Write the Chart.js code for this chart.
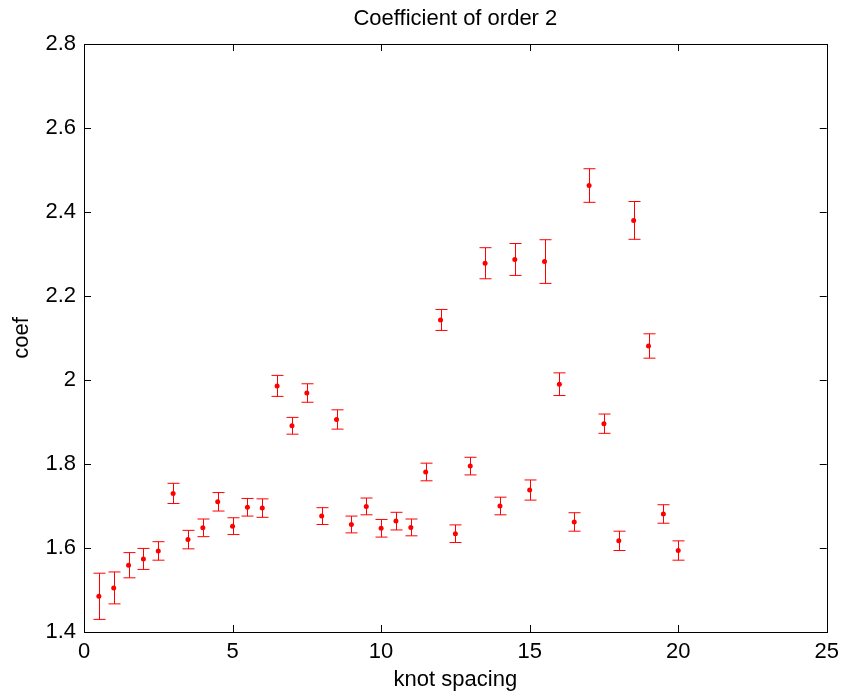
<!DOCTYPE html>
<html>
<head>
<meta charset="utf-8">
<script src="https://cdn.jsdelivr.net/npm/chart.js@4.4.1/dist/chart.umd.min.js"></script>
<style>
  html, body { margin: 0; padding: 0; background: #fff; }
  #wrap { width: 846px; height: 698px; }
</style>
</head>
<body>
<div id="wrap"><canvas id="myChart" width="846" height="698"></canvas></div>
<script>
// knot spacing values and fitted coefficient (order 2) with error half-widths
const spacing = [0.5, 1, 1.5, 2, 2.5, 3, 3.5, 4, 4.5, 5, 5.5, 6, 6.5, 7, 7.5, 8, 8.5, 9, 9.5, 10,
                 10.5, 11, 11.5, 12, 12.5, 13, 13.5, 14, 14.5, 15, 15.5, 16, 16.5, 17, 17.5, 18, 18.5, 19, 19.5, 20];
const coef = [1.485, 1.505, 1.559, 1.574, 1.593, 1.730, 1.620, 1.648, 1.710, 1.652, 1.697, 1.695, 1.986, 1.891,
              1.969, 1.676, 1.906, 1.656, 1.699, 1.647, 1.664, 1.649, 1.781, 2.143, 1.634, 1.795, 2.278, 1.700,
              2.287, 1.738, 2.282, 1.990, 1.662, 2.463, 1.896, 1.617, 2.380, 2.081, 1.681, 1.594];
const coefErr = [0.055, 0.038, 0.030, 0.025, 0.022, 0.024, 0.022, 0.021, 0.022, 0.020, 0.021, 0.022, 0.025, 0.020,
                 0.022, 0.020, 0.023, 0.020, 0.020, 0.021, 0.021, 0.020, 0.021, 0.025, 0.021, 0.021, 0.037, 0.021,
                 0.038, 0.024, 0.052, 0.027, 0.022, 0.040, 0.023, 0.023, 0.045, 0.029, 0.022, 0.023];

const xTicks = [0, 5, 10, 15, 20, 25];
const yTicks = [1.4, 1.6, 1.8, 2.0, 2.2, 2.4, 2.6, 2.8];
const titleText = 'Coefficient of order 2';

const FONT = "'Liberation Sans', Arial, Helvetica, sans-serif";

// error bars drawn through the chart's own scales
const errorBars = {
    id: 'errorBars',
    beforeDatasetsDraw(chart) {
        const ctx = chart.ctx;
        const xs = chart.scales.x, ys = chart.scales.y;
        ctx.save();
        ctx.strokeStyle = '#ff0000';
        ctx.lineWidth = 1;
        for (let i = 0; i < spacing.length; i++) {
            const px = Math.round(xs.getPixelForValue(spacing[i])) + 0.5;
            const top = ys.getPixelForValue(coef[i] + coefErr[i]);
            const bot = ys.getPixelForValue(coef[i] - coefErr[i]);
            ctx.beginPath();
            ctx.moveTo(px, top); ctx.lineTo(px, bot);
            ctx.moveTo(px - 6, top); ctx.lineTo(px + 6, top);
            ctx.moveTo(px - 6, bot); ctx.lineTo(px + 6, bot);
            ctx.stroke();
        }
        ctx.restore();
    }
};

// box around the plot with inward ticks on all four sides, title centred over the plot
const frame = {
    id: 'frame',
    afterDraw(chart) {
        const ctx = chart.ctx;
        const a = chart.chartArea;
        const xs = chart.scales.x, ys = chart.scales.y;
        const L = 7;
        ctx.save();
        ctx.strokeStyle = '#000';
        ctx.lineWidth = 1;
        ctx.beginPath();
        xTicks.forEach(v => {
            const px = Math.round(xs.getPixelForValue(v)) + 0.5;
            ctx.moveTo(px, a.bottom); ctx.lineTo(px, a.bottom - L);
            ctx.moveTo(px, a.top); ctx.lineTo(px, a.top + L);
        });
        yTicks.forEach(v => {
            const py = Math.round(ys.getPixelForValue(v)) + 0.5;
            ctx.moveTo(a.left, py); ctx.lineTo(a.left + L, py);
            ctx.moveTo(a.right, py); ctx.lineTo(a.right - L, py);
        });
        ctx.stroke();
        ctx.strokeRect(Math.round(a.left) + 0.5, Math.round(a.top) + 0.5,
                       Math.round(a.right - a.left), Math.round(a.bottom - a.top));

        ctx.fillStyle = '#000';
        ctx.font = '22px ' + FONT;
        ctx.textAlign = 'center';
        ctx.textBaseline = 'middle';
        ctx.fillText(titleText, (a.left + a.right) / 2, 19);
        ctx.restore();
    }
};

const ctx = document.getElementById('myChart').getContext('2d');
const myChart = new Chart(ctx, {
    type: 'scatter',
    data: {
        datasets: [{
            label: 'coef',
            data: spacing.map((x, i) => ({ x: x, y: coef[i] })),
            backgroundColor: '#ff0000',
            borderWidth: 0,
            pointRadius: 2.5,
            pointHoverRadius: 2.5
        }]
    },
    options: {
        responsive: false,
        animation: false,
        layout: { padding: { left: 0, right: 13, top: 44, bottom: 0 } },
        scales: {
            x: {
                type: 'linear',
                min: 0,
                max: 25,
                afterBuildTicks: s => { s.ticks = xTicks.map(v => ({ value: v })); },
                afterFit: s => { s.height = 66; },
                grid: { display: false, drawTicks: false },
                border: { display: false },
                ticks: { color: '#000', padding: 7, font: { family: FONT, size: 22 }, maxRotation: 0 },
                title: { display: true, text: 'knot spacing', color: '#000', padding: { top: 0, bottom: 5 },
                         font: { family: FONT, size: 22 } }
            },
            y: {
                type: 'linear',
                min: 1.4,
                max: 2.8,
                afterBuildTicks: s => { s.ticks = yTicks.map(v => ({ value: v })); },
                afterFit: s => { s.width = 84; },
                grid: { display: false, drawTicks: false },
                border: { display: false },
                ticks: { color: '#000', padding: 8, font: { family: FONT, size: 22 },
                         callback: v => String(Math.round(v * 10) / 10) },
                title: { display: true, text: 'coef', color: '#000', padding: 9,
                         font: { family: FONT, size: 22 } }
            }
        },
        plugins: {
            legend: { display: false },
            tooltip: { enabled: false },
            title: { display: false }
        }
    },
    plugins: [errorBars, frame]
});
</script>
</body>
</html>
